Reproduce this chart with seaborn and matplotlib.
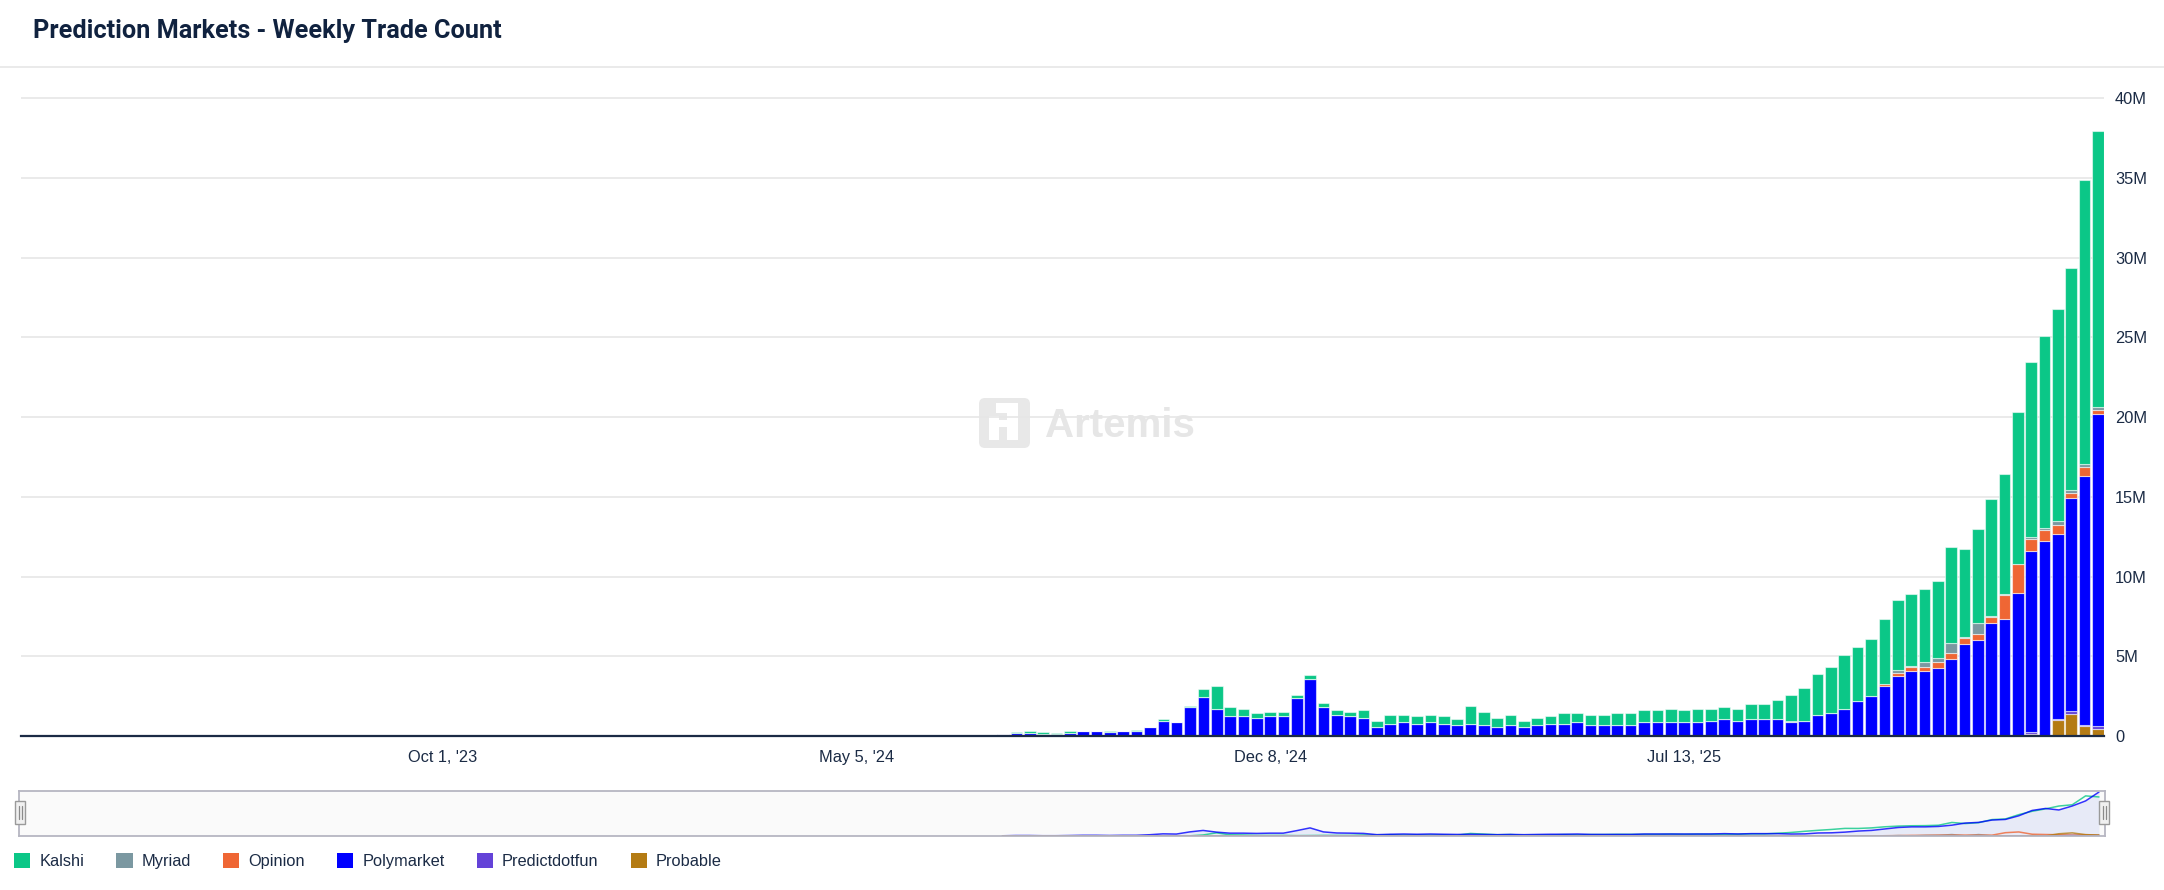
import matplotlib
matplotlib.use('Agg')
import matplotlib.pyplot as plt
import seaborn as sns
import pandas as pd
import numpy as np
from matplotlib.patches import Patch, Rectangle, FancyBboxPatch
from matplotlib.lines import Line2D
from matplotlib.ticker import FuncFormatter

# weekly trade counts in millions, first week = Jul 21 '24
first_week = '2024-07-21'
axis_start = pd.Timestamp('2023-02-26')

kalshi = [0, 0.02, 0.10, 0.10, 0.08, 0.08, 0, 0, 0.08, 0, 0.09, 0, 0.09, 0, 0.08, 0.46, 1.40,
          0.54, 0.46, 0.27, 0.27, 0.27, 0.17, 0.21, 0.27, 0.27, 0.27, 0.46, 0.37, 0.57, 0.46,
          0.48, 0.46, 0.48, 0.36, 1.13, 0.84, 0.56, 0.65, 0.37, 0.46, 0.48, 0.65, 0.54, 0.65,
          0.65, 0.73, 0.73, 0.73, 0.73, 0.84, 0.73, 0.84, 0.76, 0.75, 0.76, 0.94, 0.94, 1.23,
          1.59, 2.09, 2.53, 2.91, 3.38, 3.36, 3.61, 4.10, 4.40, 4.56, 4.61, 4.79, 6.02, 5.53,
          5.92, 7.30, 7.57, 9.49, 10.99, 12.06, 13.32, 13.88, 17.83, 17.35]
polymarket = [0.10, 0.21, 0.21, 0.13, 0.13, 0.21, 0.31, 0.31, 0.23, 0.31, 0.31, 0.56, 0.96,
              0.86, 1.82, 2.47, 1.72, 1.26, 1.26, 1.15, 1.26, 1.26, 2.38, 3.60, 1.82, 1.34,
              1.26, 1.15, 0.59, 0.77, 0.88, 0.77, 0.88, 0.77, 0.69, 0.77, 0.69, 0.59, 0.69,
              0.59, 0.69, 0.77, 0.77, 0.88, 0.69, 0.69, 0.69, 0.69, 0.88, 0.88, 0.88, 0.88,
              0.88, 0.91, 1.05, 0.91, 1.05, 1.05, 1.05, 0.88, 0.94, 1.34, 1.42, 1.72, 2.20,
              2.49, 3.14, 3.79, 4.06, 4.06, 4.25, 4.81, 5.75, 6.05, 7.09, 7.36, 8.97, 11.36,
              12.24, 11.57, 13.33, 15.59, 19.54]
myriad = [0.0] * 53 + [0.05, 0, 0.05, 0, 0, 0, 0.08, 0, 0, 0, 0, 0, 0, 0, 0.19, 0.04, 0.27,
                       0.30, 0.65, 0.08, 0.65, 0.08, 0.06, 0.04, 0.11, 0.13, 0.25, 0.19, 0.19, 0.19]
opinion = [0.0] * 66 + [0.12, 0.18, 0.27, 0.29, 0.37, 0.38, 0.40, 0.37, 0.38, 1.47, 1.80,
                        0.79, 0.66, 0.56, 0.37, 0.56, 0.27]
predictdotfun = [0.0] * 77 + [0.08, 0, 0.09, 0.19, 0.10, 0.21]
probable = [0.0] * 77 + [0.15, 0, 1.00, 1.38, 0.61, 0.42]

platforms = ['Kalshi', 'Myriad', 'Opinion', 'Polymarket', 'Predictdotfun', 'Probable']
colors = ['#0bc787', '#7b98a1', '#ef6634', '#0000ff', '#6443d8', '#b47b13']
tick_dates = ['2023-10-01', '2024-05-05', '2024-12-08', '2025-07-13']

series = dict(zip(platforms, [kalshi, myriad, opinion, polymarket, predictdotfun, probable]))
weeks = pd.date_range(first_week, periods=len(kalshi), freq='7D')
week_num = ((weeks - axis_start).days // 7).to_numpy()
df = pd.concat([pd.DataFrame({'week': week_num, 'trades': np.array(v) * 1e6, 'platform': k})
                for k, v in series.items()], ignore_index=True)

sns.set_style('white')
plt.rcParams['font.family'] = ['Liberation Sans', 'DejaVu Sans']
text_col = '#1b2b45'

W, H = 2164, 890
def box(x0, y0, x1, y1):
    return [x0 / W, 1 - y1 / H, (x1 - x0) / W, (y1 - y0) / H]

fig = plt.figure(figsize=(W / 100, H / 100), dpi=100)

# title + separator
fig.text(33 / W, 1 - 31 / H, 'Prediction Markets - Weekly Trade Count', fontsize=18.2,
         fontweight='bold', color='#10223f', va='center', family='Roboto')
fig.add_artist(Line2D([0, 1], [1 - 67 / H] * 2, color='#e6e6e6', lw=1.2))

# watermark
fig.add_artist(FancyBboxPatch((9.85, 4.48), 0.39, 0.38, boxstyle='round,pad=0.06',
                              transform=fig.dpi_scale_trans, fc='#e8e8e8', ec='none', zorder=-2))
for (x, y, w, h) in [(9.89, 4.50, 0.10, 0.24), (10.07, 4.50, 0.11, 0.37), (9.96, 4.77, 0.11, 0.10),
                     (9.99, 4.63, 0.08, 0.07)]:
    fig.add_artist(Rectangle((x, y), w, h, transform=fig.dpi_scale_trans, fc='white', ec='none', zorder=-1))
fig.text(1045 / W, 1 - 437 / H, 'Artemis', fontsize=29, fontweight='bold', color='#e6e6e6',
         va='baseline', zorder=-1)

# main stacked bars
ax = fig.add_axes(box(21, 93.6, 2104, 736))
ax.set_facecolor('none')
sns.histplot(data=df, x='week', weights='trades', hue='platform', hue_order=platforms,
             palette=colors, multiple='stack', discrete=True, shrink=0.87, alpha=1,
             edgecolor=(1, 1, 1, 0.55), linewidth=0.8, legend=False, ax=ax, zorder=2)

ax.set_xlim(-0.55, 155.45)
ax.set_ylim(0, 40.3e6)
ax.set_yticks(np.arange(0, 41e6, 5e6))
ax.yaxis.set_major_formatter(FuncFormatter(lambda v, _: '0' if v == 0 else f'{int(round(v / 1e6))}M'))
ax.yaxis.tick_right()
ax.grid(axis='y', color='#e6e6e6', lw=1.2, zorder=0)
ax.set_axisbelow(True)

tick_pos = [(pd.Timestamp(d) - axis_start).days / 7 for d in tick_dates]
ax.set_xticks(tick_pos)
ax.set_xticklabels([pd.Timestamp(d).strftime('%b %-d, \'%y') for d in tick_dates])
ax.tick_params(axis='both', length=0, labelsize=11.8, labelcolor=text_col)
ax.tick_params(axis='x', pad=10)
ax.tick_params(axis='y', pad=8)
ax.set_xlabel('')
ax.set_ylabel('')
for s in ['top', 'left', 'right']:
    ax.spines[s].set_visible(False)
ax.spines['bottom'].set_color(text_col)
ax.spines['bottom'].set_linewidth(1.6)

# navigator strip
nav = fig.add_axes(box(19, 791, 2105, 836))
nav.set_facecolor('#fafafa')
poly = df[df.platform == 'Polymarket']
nav.fill_between(poly.week, poly.trades, color='#e7eaf7', lw=0)
for name, col in zip(platforms, colors):
    sns.lineplot(data=df[df.platform == name], x='week', y='trades', color=col, lw=1.1,
                 alpha=0.8, ax=nav)
nav.set_xlim(-0.55, 155.45)
nav.set_ylim(0, 20e6)
nav.set_xticks([])
nav.set_yticks([])
nav.set_xlabel('')
nav.set_ylabel('')
for s in nav.spines.values():
    s.set_color('#b6b6c2')
    s.set_linewidth(1.3)
for hx in (15, 2099):
    fig.add_artist(Rectangle((hx / W, 1 - 824 / H), 10 / W, 23 / H, fc='#f0f0f0', ec='#9a9a9a', lw=1))
    for dx in (3.5, 6.5):
        fig.add_artist(Line2D([(hx + dx) / W] * 2, [1 - 819 / H, 1 - 806 / H], color='#8a8a8a', lw=0.9))

# legend
handles = [Patch(facecolor=c, edgecolor='none', label=n) for n, c in zip(platforms, colors)]
fig.legend(handles=handles, loc='center left', bbox_to_anchor=(14 / W, 1 - 861 / H), ncol=6,
           frameon=False, fontsize=11.8, labelcolor=text_col, handlelength=1.0, handleheight=1.0,
           handletextpad=0.55, columnspacing=1.95, borderpad=0, borderaxespad=0)

fig.savefig('out.png', dpi=100, facecolor='white')
